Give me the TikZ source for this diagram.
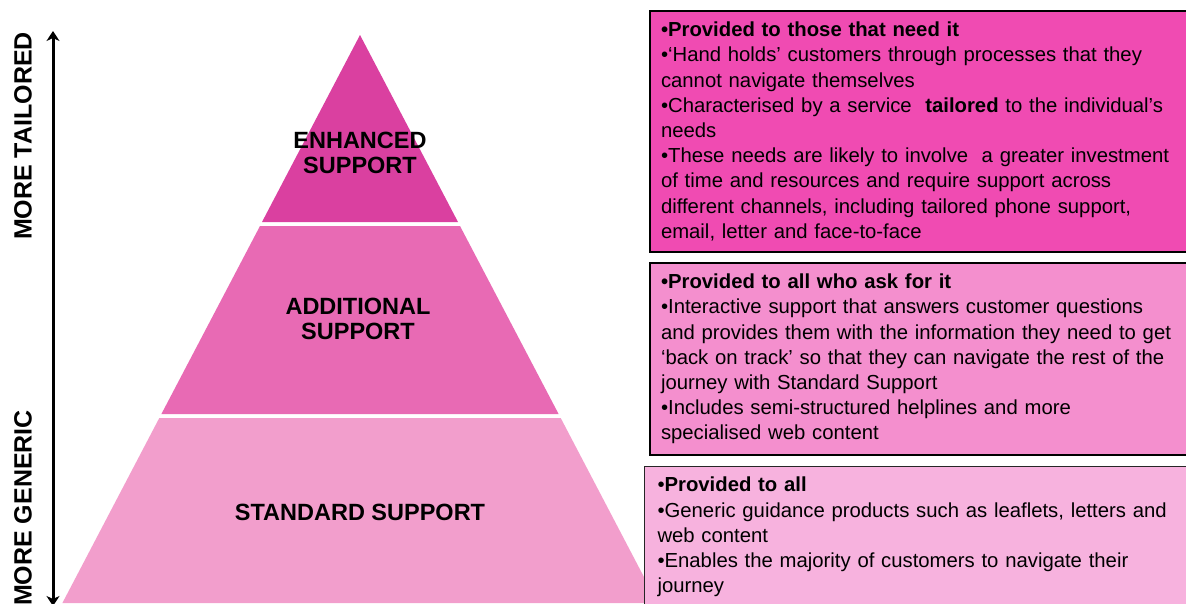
\documentclass[tikz,border=0pt]{standalone}
\usepackage{fontspec}
\setmainfont{Liberation Sans}
\usetikzlibrary{arrows.meta}

% tier and panel fills
\definecolor{tierTop}{RGB}{218,64,160}
\definecolor{tierMid}{RGB}{232,106,180}
\definecolor{tierLow}{RGB}{242,158,204}
\definecolor{panelTop}{RGB}{240,75,178}
\definecolor{panelMid}{RGB}{244,143,206}
\definecolor{panelLow}{RGB}{247,178,222}

\begin{document}
\begin{tikzpicture}[x=1pt,y=-1pt,
  tierlabel/.style={font=\fontsize{23.5}{25}\selectfont\bfseries, align=center, inner sep=0pt},
  axislabel/.style={font=\fontsize{25}{27}\selectfont\bfseries, rotate=90, inner sep=0pt},
  axisline/.style={line width=3pt, {Stealth[length=10pt,width=13pt,inset=3pt]}-{Stealth[length=10pt,width=13pt,inset=3pt]}},
  panel/.style={anchor=north west, align=left, text width=530pt, inner xsep=11pt, inner ysep=0pt,
    font=\fontsize{20.3}{25.2}\selectfont},
]
\useasboundingbox (0,0) rectangle (1186,603);
\fill[white] (0,0) rectangle (1186,603);

% pyramid tiers
\fill[tierTop] (360,35) -- (458,222) -- (262,222) -- cycle;
\fill[tierMid] (260,226) -- (460,226) -- (558.6,414) -- (161.4,414) -- cycle;
\fill[tierLow] (159.3,418) -- (560.7,418) -- (657.6,603) -- (62.4,603) -- cycle;

\node[tierlabel] (enhanced) at (360,153) {ENHANCED\\SUPPORT};
\node[tierlabel] (additional) at (358,319) {ADDITIONAL\\SUPPORT};
\node[tierlabel] (standard) at (360,512) {STANDARD SUPPORT};

% vertical scale arrow
\coordinate (axisTop) at (53,31);
\coordinate (axisBottom) at (53,606);
\draw[axisline] (axisBottom) -- (axisTop);
\node[axislabel] (tailored) at (23,136) {MORE TAILORED};
\node[axislabel] (generic) at (23,508) {MORE GENERIC};

% description panels
\node[panel, fill=panelTop, draw=black, line width=2pt, minimum height=241pt] (panelA) at (649,10) {%
\textbf{•Provided to those that need it}\\
•‘Hand holds’ customers through processes that they\\
cannot navigate themselves\\
•Characterised by a service\ \ \textbf{tailored} to the individual’s\\
needs\\
•These needs are likely to involve\ \ a greater investment\\
of time and resources and require support across\\
different channels, including tailored phone support,\\
email, letter and face-to-face};

\node[panel, fill=panelMid, draw=black, line width=2pt, minimum height=192pt] (panelB) at (649,262) {%
\textbf{•Provided to all who ask for it}\\
•Interactive support that answers customer questions\\
and provides them with the information they need to get\\
‘back on track’ so that they can navigate the rest of the\\
journey with Standard Support\\
•Includes semi-structured helplines and more\\
specialised web content};

\node[panel, fill=panelLow, draw=black!85, line width=1pt, minimum height=141pt, inner xsep=13pt] (panelC) at (644,466) {%
•\textbf{Provided to all}\\
•Generic guidance products such as leaflets, letters and\\
web content\\
•Enables the majority of customers to navigate their\\
journey};
\end{tikzpicture}
\end{document}
